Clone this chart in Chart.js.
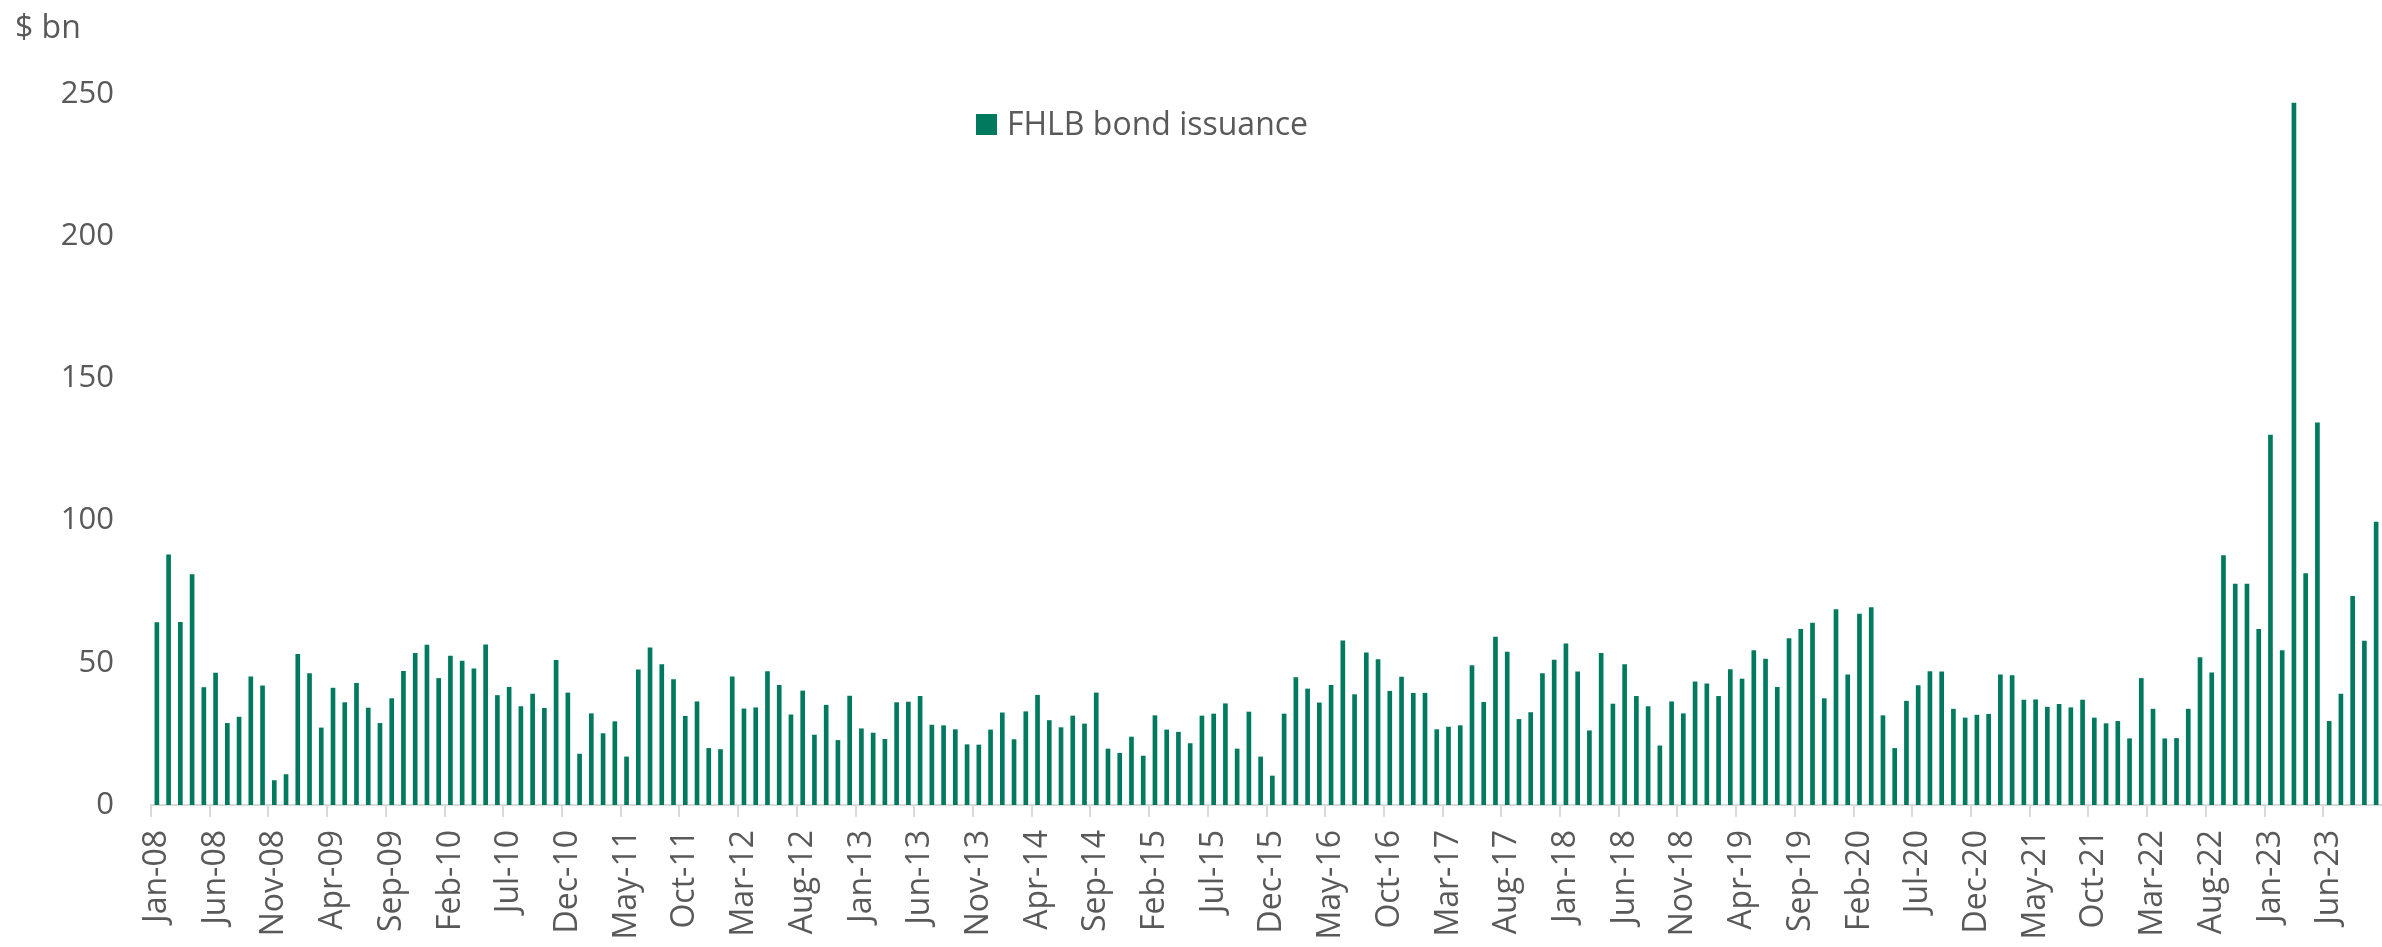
<!DOCTYPE html>
<html>
<head>
<meta charset="utf-8">
<script src="https://cdn.jsdelivr.net/npm/chart.js@4.4.0/dist/chart.umd.min.js"></script>
<style>
html, body { margin: 0; padding: 0; background: #ffffff; }
#wrap { position: relative; width: 2382px; height: 947px; }
</style>
</head>
<body>
<div id="wrap"><canvas id="chart"></canvas></div>
<script>
// ---- data ----
const unitLabel = '$ bn';
const seriesName = 'FHLB bond issuance';
const monthNames = ['Jan','Feb','Mar','Apr','May','Jun','Jul','Aug','Sep','Oct','Nov','Dec'];
const years = [2008,2009,2010,2011,2012,2013,2014,2015,2016,2017,2018,2019,2020,2021,2022,2023];

const issuance2008 = [64.1, 88.0, 64.2, 81.0, 41.3, 46.4, 28.7, 30.9, 45.1, 41.9, 8.6, 10.7];
const issuance2009 = [53.0, 46.2, 27.1, 41.1, 36.0, 42.8, 34.1, 28.7, 37.4, 47.0, 53.3, 56.2];
const issuance2010 = [44.5, 52.4, 50.6, 47.9, 56.3, 38.5, 41.4, 34.6, 39.0, 34.0, 50.9, 39.4];
const issuance2011 = [17.9, 32.1, 25.1, 29.3, 16.9, 47.5, 55.3, 49.4, 44.1, 31.2, 36.3, 19.9];
const issuance2012 = [19.5, 45.1, 33.8, 34.2, 46.9, 42.1, 31.7, 40.1, 24.6, 35.1, 22.7, 38.3];
const issuance2013 = [26.8, 25.3, 23.1, 36.0, 36.2, 38.2, 28.1, 27.9, 26.5, 21.2, 21.1, 26.4];
const issuance2014 = [32.4, 23.0, 32.8, 38.6, 29.7, 27.2, 31.3, 28.5, 39.4, 19.7, 18.2, 23.9];
const issuance2015 = [17.2, 31.4, 26.4, 25.6, 21.6, 31.3, 32.0, 35.6, 19.7, 32.7, 16.9, 10.2];
const issuance2016 = [32.0, 44.8, 40.8, 35.9, 42.1, 57.7, 38.8, 53.5, 51.1, 40.0, 45.0, 39.3];
const issuance2017 = [39.3, 26.5, 27.4, 27.9, 49.0, 36.1, 59.0, 53.8, 30.1, 32.5, 46.2, 51.0];
const issuance2018 = [56.7, 46.8, 26.1, 53.3, 35.5, 49.4, 38.2, 34.6, 20.8, 36.3, 32.1, 43.3];
const issuance2019 = [42.6, 38.2, 47.6, 44.3, 54.3, 51.3, 41.4, 58.5, 61.8, 64.0, 37.4, 68.7];
const issuance2020 = [45.8, 67.1, 69.4, 31.4, 19.9, 36.5, 42.0, 46.9, 46.8, 33.7, 30.6, 31.6];
const issuance2021 = [31.9, 45.8, 45.5, 36.9, 37.0, 34.4, 35.4, 34.2, 36.9, 30.6, 28.6, 29.4];
const issuance2022 = [23.3, 44.5, 33.7, 23.3, 23.4, 33.7, 51.8, 46.5, 87.7, 77.7, 77.7, 61.8];
const issuance2023 = [130.1, 54.3, 246.8, 81.4, 134.4, 29.4, 39.0, 73.4, 57.6, 99.5];

const yTicks = [0, 50, 100, 150, 200, 250];
const labelEvery = 5;

// ---- assembled from the arrays above ----
const issuanceByYear = [issuance2008, issuance2009, issuance2010, issuance2011, issuance2012,
  issuance2013, issuance2014, issuance2015, issuance2016, issuance2017, issuance2018,
  issuance2019, issuance2020, issuance2021, issuance2022, issuance2023];
const values = [];
const categories = [];
issuanceByYear.forEach((arr, yi) => {
  arr.forEach((v, mi) => {
    values.push(v);
    categories.push(monthNames[mi] + '-' + String(years[yi]).slice(2));
  });
});

const BAR = '#007A5E';
const TEXT = '#595959';
const AXIS = '#d9d9d9';
const FONT = "'Open Sans', 'Noto Sans', sans-serif";

const overlay = {
  id: 'overlay',
  afterDraw(chart) {
    const ctx = chart.ctx;
    ctx.save();
    ctx.fillStyle = TEXT;
    ctx.font = '32px ' + FONT;
    ctx.textAlign = 'left';
    ctx.textBaseline = 'alphabetic';
    ctx.fillText(unitLabel, 15, 38);
    // legend
    const ds = chart.data.datasets[0];
    ctx.fillStyle = ds.backgroundColor;
    ctx.fillRect(976, 114, 21, 21);
    ctx.fillStyle = TEXT;
    ctx.fillText(ds.label, 1007, 135);
    ctx.restore();
  }
};

new Chart(document.getElementById('chart'), {
  type: 'bar',
  data: {
    labels: categories,
    datasets: [{
      label: seriesName,
      data: values,
      backgroundColor: BAR,
      borderWidth: 0,
      barThickness: 4
    }]
  },
  options: {
    responsive: true,
    maintainAspectRatio: false,
    animation: false,
    layout: { padding: { top: 94, right: 0, bottom: 0, left: 0 } },
    plugins: {
      legend: { display: false },
      tooltip: { enabled: false },
      title: { display: false }
    },
    scales: {
      x: {
        offset: true,
        grid: {
          display: true,
          drawOnChartArea: false,
          drawTicks: true,
          tickLength: 12,
          lineWidth: 2,
          offset: true,
          color: (ctx) => (ctx.index % labelEvery === 0 ? AXIS : 'rgba(0,0,0,0)')
        },
        border: { display: true, color: AXIS, width: 2 },
        ticks: {
          autoSkip: false,
          maxRotation: 90,
          minRotation: 90,
          padding: 13,
          color: TEXT,
          font: { family: FONT, size: 32 },
          callback: (val, idx) => (idx % labelEvery === 0 ? categories[idx] : '')
        },
        afterFit(scale) {
          scale.height = 142;
          scale.paddingLeft = 0;
          scale.paddingRight = 0;
        }
      },
      y: {
        min: 0,
        max: 250,
        afterBuildTicks(scale) {
          scale.ticks = yTicks.map(v => ({ value: v }));
        },
        grid: { display: false, drawTicks: false },
        border: { display: false },
        ticks: {
          padding: 37,
          color: TEXT,
          font: { family: FONT, size: 31 }
        },
        afterFit(scale) {
          scale.width = 151;
        }
      }
    }
  },
  plugins: [overlay]
});
</script>
</body>
</html>
